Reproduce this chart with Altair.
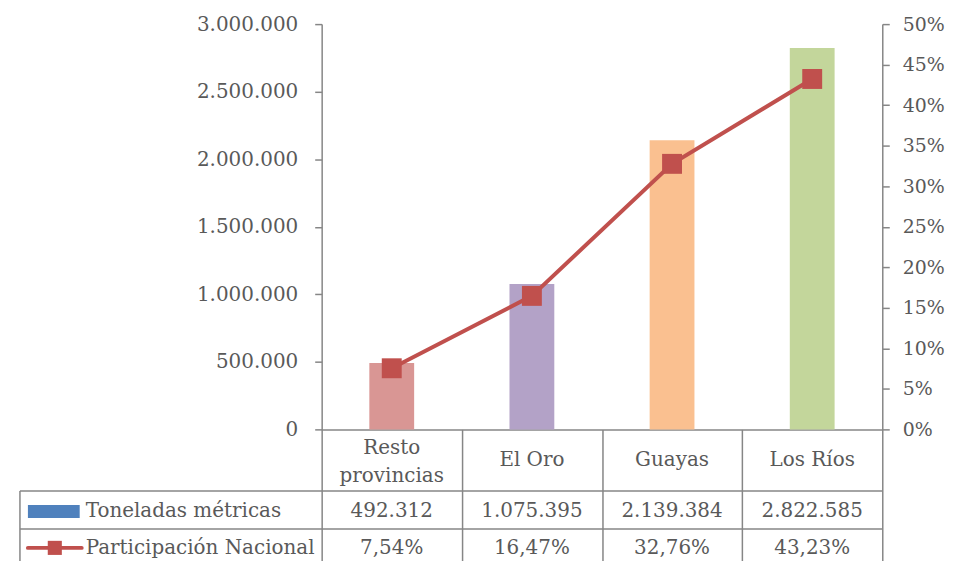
import altair as alt
import pandas as pd

# ---- data ----
categories = ["Resto provincias", "El Oro", "Guayas", "Los Ríos"]
header_labels = ["Resto\nprovincias", "El Oro", "Guayas", "Los Ríos"]
toneladas = [492312, 1075395, 2139384, 2822585]
participacion = [7.54, 16.47, 32.76, 43.23]
series_names = ["Toneladas métricas", "Participación Nacional"]
y_left_ticks = [0, 500000, 1000000, 1500000, 2000000, 2500000, 3000000]
y_right_ticks = [0, 5, 10, 15, 20, 25, 30, 35, 40, 45, 50]

bar_colors = ["#D99694", "#B3A2C7", "#FAC090", "#C3D69B"]
line_color = "#C0504D"
key_color = "#4F81BD"


def fmt_ton(v):
    return f"{v:,}".replace(",", ".")


def fmt_pct(p):
    return f"{p:.2f}%".replace(".", ",")


df = pd.DataFrame({
    "cat": categories,
    "hdr": header_labels,
    "ton": toneladas,
    "pct": participacion,
    "ton_lbl": [fmt_ton(v) for v in toneladas],
    "pct_lbl": [fmt_pct(p) for p in participacion],
})

W, H = 563, 407
FONT = "DejaVu Serif"
FS = 20
TXT = "#595959"
LINE = "#868686"
LW = 1.5

# table geometry relative to the plot area
TABLE_LEFT = -303
ROW1_TOP = 469
ROW2_TOP = 507
HDR_Y = 438
HDR_Y2 = 426
ROW1_Y = 489
ROW2_Y = 526

x_enc = alt.X(
    "cat:N",
    sort=categories,
    scale=alt.Scale(domain=categories, paddingInner=0, paddingOuter=0),
    axis=alt.Axis(
        title=None, labels=False, domainColor=LINE, domainWidth=LW,
        tickColor=LINE, tickWidth=LW, tickBand="extent", tickSize=160,
    ),
)

base = alt.Chart(df)

bars = base.mark_bar(size=45).encode(
    x=x_enc,
    y=alt.Y(
        "ton:Q",
        scale=alt.Scale(domain=[0, 3000000], nice=False),
        axis=alt.Axis(
            title=None, orient="left", values=y_left_ticks, grid=False,
            labelExpr="replace(format(datum.value, ',d'), regexp(',', 'g'), '.')",
            labelFont=FONT, labelFontSize=FS, labelColor=TXT, labelPadding=17,
            domainColor=LINE, domainWidth=LW, tickColor=LINE, tickWidth=LW, tickSize=7,
        ),
    ),
    color=alt.Color("cat:N", scale=alt.Scale(domain=categories, range=bar_colors), legend=None),
)

y_pct = alt.Y(
    "pct:Q",
    scale=alt.Scale(domain=[0, 50], nice=False),
    axis=alt.Axis(
        title=None, orient="right", values=y_right_ticks, grid=False,
        labelExpr="datum.value + '%'",
        labelFont=FONT, labelFontSize=19, labelColor=TXT, labelPadding=13,
        domainColor=LINE, domainWidth=LW, tickColor=LINE, tickWidth=LW, tickSize=7,
    ),
)

line = base.mark_line(color=line_color, strokeWidth=4).encode(x=x_enc, y=y_pct)
points = base.mark_point(shape="square", filled=True, size=400, opacity=1,
                         color=line_color).encode(x=x_enc, y=y_pct)

right = alt.layer(line, points)

# ---- data table below the plot ----
txt_kw = dict(font=FONT, fontSize=FS, color=TXT, baseline="middle")

hdr_single = base.transform_filter("indexof(datum.hdr, '\\n') < 0").mark_text(**txt_kw).encode(
    x=x_enc, y=alt.value(HDR_Y), text="hdr:N")
hdr_multi = base.transform_filter("indexof(datum.hdr, '\\n') >= 0").mark_text(
    lineBreak="\n", lineHeight=28, **txt_kw).encode(
    x=x_enc, y=alt.value(HDR_Y2), text="hdr:N")
row1 = base.mark_text(**txt_kw).encode(x=x_enc, y=alt.value(ROW1_Y), text="ton_lbl:N")
row2 = base.mark_text(**txt_kw).encode(x=x_enc, y=alt.value(ROW2_Y), text="pct_lbl:N")

one = alt.Data(values=[{"k": 0}])

hline1 = alt.Chart(one).mark_rule(color=LINE, strokeWidth=LW).encode(
    x=alt.value(TABLE_LEFT), x2=alt.value(W), y=alt.value(ROW1_TOP))
hline2 = alt.Chart(one).mark_rule(color=LINE, strokeWidth=LW).encode(
    x=alt.value(TABLE_LEFT), x2=alt.value(W), y=alt.value(ROW2_TOP))
vline = alt.Chart(one).mark_rule(color=LINE, strokeWidth=LW).encode(
    x=alt.value(TABLE_LEFT), y=alt.value(ROW1_TOP), y2=alt.value(H + 160))

key1 = alt.Chart(one).mark_rect(color=key_color).encode(
    x=alt.value(TABLE_LEFT + 8), x2=alt.value(TABLE_LEFT + 60),
    y=alt.value(ROW1_Y - 6), y2=alt.value(ROW1_Y + 7))
key2_line = alt.Chart(one).mark_rule(color=line_color, strokeWidth=4, strokeCap="round").encode(
    x=alt.value(TABLE_LEFT + 8), x2=alt.value(TABLE_LEFT + 62), y=alt.value(ROW2_Y))
key2_pt = alt.Chart(one).mark_point(shape="square", filled=True, size=200, opacity=1,
                                    color=line_color).encode(
    x=alt.value(TABLE_LEFT + 35), y=alt.value(ROW2_Y))

name1 = alt.Chart(one).mark_text(align="left", **txt_kw).encode(
    x=alt.value(TABLE_LEFT + 66), y=alt.value(ROW1_Y), text=alt.value(series_names[0]))
name2 = alt.Chart(one).mark_text(align="left", **txt_kw).encode(
    x=alt.value(TABLE_LEFT + 66), y=alt.value(ROW2_Y), text=alt.value(series_names[1]))

chart = alt.layer(
    bars, right, hdr_single, hdr_multi, row1, row2, hline1, hline2, vline,
    key1, key2_line, key2_pt, name1, name2,
).resolve_scale(y="independent").properties(
    width=W, height=H,
    autosize=alt.AutoSizeParams(type="none"),
    padding={"left": 315, "top": 15, "right": 66, "bottom": 131},
    background="white",
).configure_view(stroke=None)

chart.save("out.html", embed_options={"renderer": "svg", "actions": False})
